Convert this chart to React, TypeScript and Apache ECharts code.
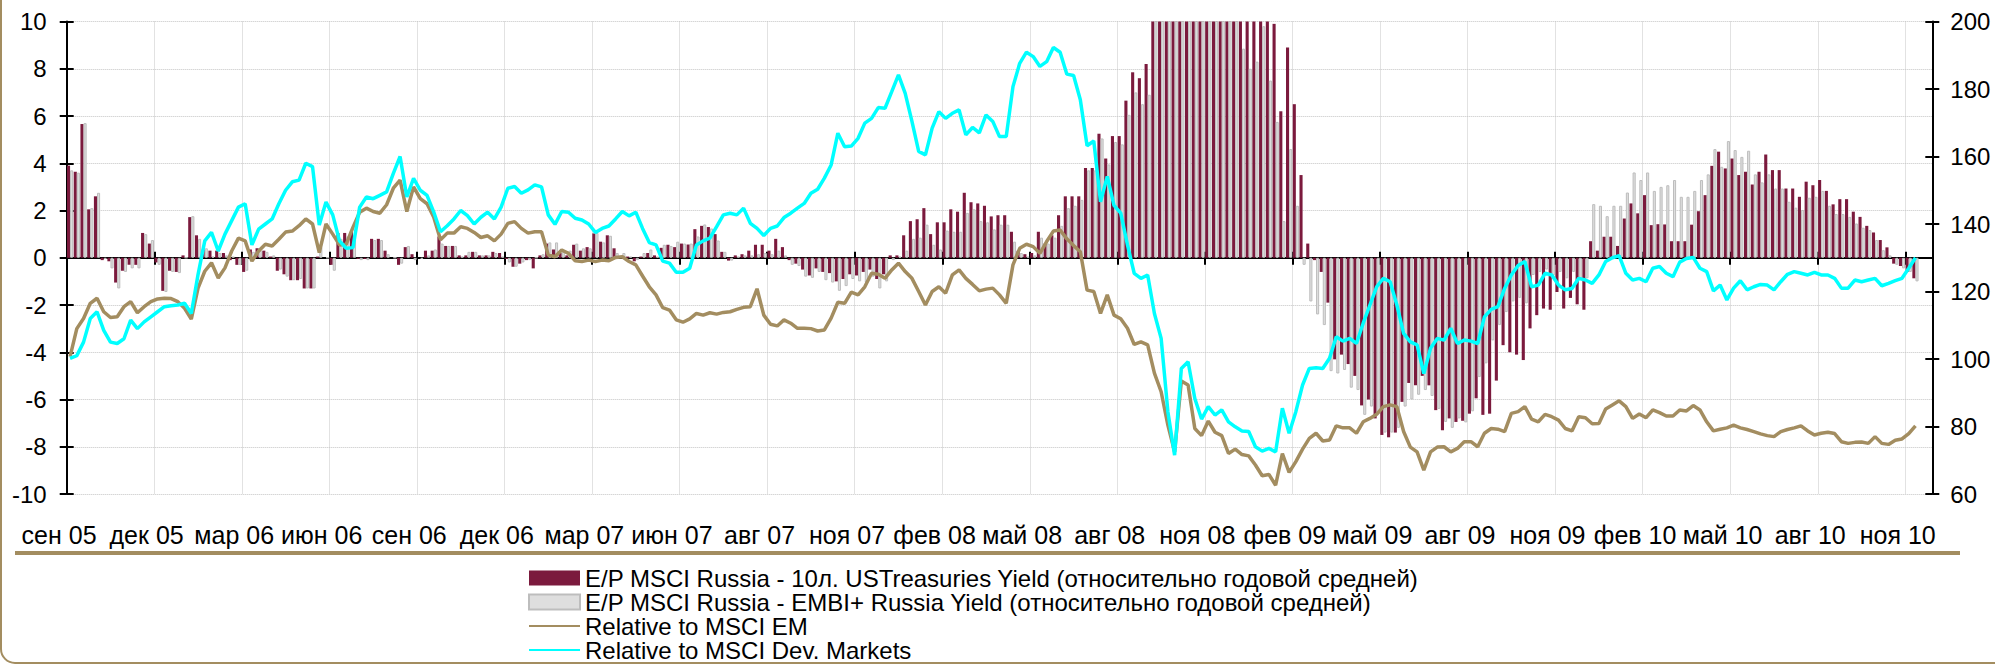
import React, { useEffect, useRef } from "react";
import * as echarts from "echarts";

const FONT = "'Liberation Sans', Arial, sans-serif";

const tickLabels = [
  "сен 05", "дек 05", "мар 06", "июн 06", "сен 06", "дек 06", "мар 07", "июн 07",
  "авг 07", "ноя 07", "фев 08", "май 08", "авг 08", "ноя 08", "фев 09", "май 09",
  "авг 09", "ноя 09", "фев 10", "май 10", "авг 10", "ноя 10",
];
const WEEKS_PER_LABEL = 13;
const WEEK_COUNT = 277;
const weeks = Array.from({ length: WEEK_COUNT }, (_, i) => `w${i}`);

const nameUST = "E/P MSCI Russia - 10л. USTreasuries Yield (относительно годовой средней)";
const nameEMBI = "E/P MSCI Russia - EMBI+ Russia Yield (относительно годовой средней)";
const nameEM = "Relative to MSCI EM";
const nameDM = "Relative to MSCI Dev. Markets";

// E/P MSCI Russia - 10y UST yield (deviation from 1y average), left axis
const epUST = [
  3.9, 3.64, 5.66, 2.05, 2.6, -0.1, -0.15, -1.05, -0.55, -0.3,
  -0.3, 1.05, 0.6, -0.2, -1.4, -0.55, -0.6, 0.1, 1.72, 0.95,
  0.35, 0.3, 0.3, 0.2, -0.1, -0.3, -0.6, 0.35, 0.4, 0.3,
  0.05, -0.55, -0.7, -0.95, -0.95, -1.3, -1.3, 0.05, 0, -0.3,
  1.05, 1.05, 1.1, -0.05, -0.05, 0.8, 0.8, 0.3, 0, -0.3,
  0.45, 0.15, 0, 0.3, 0.3, 0.9, 0.5, 0.5, 0.1, 0.1,
  0.25, 0.1, 0.1, 0.25, 0.2, -0.05, -0.38, -0.25, -0.1, -0.45,
  0.1, 0.6, 0.35, 0.2, 0.1, 0.55, 0.3, 0.45, 1.03, 0.68,
  0.95, 0.4, 0.05, 0.05, -0.15, 0.05, 0.2, 0.1, 0.42, 0.55,
  0.45, 0.6, 0.56, 1.21, 1.35, 1.3, 1.0, 0.25, -0.12, 0.1,
  0.15, 0.3, 0.55, 0.55, 0.3, 0.8, 0.45, -0.1, -0.25, -0.5,
  -0.75, -0.45, -0.6, -0.65, -1.0, -0.9, -0.7, -0.75, -0.6, -0.5,
  -0.9, -0.7, 0.1, 0.1, 0.95, 1.55, 1.63, 2.1, 1.0, 1.5,
  1.5, 2.05, 1.95, 2.75, 2.35, 2.3, 2.2, 1.75, 1.8, 1.8,
  1.1, 0.3, 0.15, 0.2, 1.1, 0.6, 0.95, 1.8, 2.6, 2.6,
  2.6, 3.8, 3.8, 5.25, 4.2, 5.15, 5.15, 6.65, 7.85, 7.6,
  8.2, 10.8, 11.5, 12.5, 13.5, 14, 14.5, 15, 15, 14.5,
  14, 13.5, 13, 12.5, 12, 11.5, 11, 10.8, 10.4, 9.9,
  6.2, 8.9, 6.5, 3.5, 0.6, -0.1, -0.6, -1.9, -4.3, -4.1,
  -4.5, -5.0, -6.25, -6.0, -6.8, -7.5, -7.6, -7.4, -6.1, -5.3,
  -5.4, -5.0, -5.4, -6.45, -7.3, -6.8, -6.95, -6.9, -6.6, -5.95,
  -6.65, -6.6, -5.2, -3.7, -4.0, -4.1, -4.33, -2.99, -2.43, -2.15,
  -2.2, -1.45, -2.15, -1.7, -1.97, -2.2, 0.7, 0.3, 0.89, 0.89,
  0.5, 1.66, 2.3, 1.88, 2.65, 1.38, 1.42, 1.41, 0.7, 0.7,
  0.7, 1.4, 1.97, 2.65, 3.89, 4.49, 3.78, 4.2, 3.5, 3.64,
  3.1, 3.64, 4.37, 3.71, 3.71, 2.93, 2.93, 2.58, 3.22, 3.07,
  3.29, 2.83, 2.26, 2.48, 2.48, 1.95, 1.73, 1.35, 1.07, 0.75,
  0.44, -0.25, -0.35, -0.6, -0.87,
];

// E/P MSCI Russia - EMBI+ Russia yield (deviation from 1y average), left axis
const epEMBI = [
  3.7, 3.6, 5.7, 2.1, 2.75, -0.05, -0.45, -1.3, -0.6, -0.45,
  -0.45, 1.0, 0.75, -0.3, -1.45, -0.6, -0.65, 0, 1.76, 0.8,
  0.4, 0.05, 0.2, 0.1, 0.05, -0.3, -0.55, 0.25, 0.3, 0.25,
  0.1, -0.5, -0.8, -0.95, -0.9, -1.3, -1.3, 0.45, 0, -0.55,
  0.8, 0.9, 0.95, -0.1, -0.1, 0.75, 0.75, 0.15, 0, -0.25,
  0.5, -0.1, -0.05, 0.1, 0.35, 0.6, 0.5, 0.5, 0.05, 0.25,
  0.25, 0.1, 0.1, 0.2, 0.05, -0.2, -0.38, -0.2, -0.1, 0,
  0.15, 0.65, 0.65, 0.25, 0.3, 0.6, 0.4, 0.4, 1.05, 0.65,
  0.93, 0.2, 0.2, 0.05, -0.1, 0.2, 0.35, 0.05, 0.55, 0.5,
  0.68, 0.6, 0.6, 0.9, 1.41, 1.24, 0.73, 0.25, -0.12, 0.05,
  0.1, 0.1, 0.15, 0.2, 0.15, 0.3, 0.1, -0.3, -0.35, -0.8,
  -0.85, -0.6, -0.95, -1.05, -1.4, -1.2, -0.9, -1.0, -1.05, -0.8,
  -1.3, -1.0, -0.1, 0.05, 0.3, 0.8, 0.85, 1.4, 0.55, 0.35,
  1.15, 1.1, 1.1, 1.9, 2.05, 1.55, 1.5, 1.2, 1.4, 1.4,
  0.68, 0.2, 0.05, 0.1, 0.85, 0.6, 0.85, 1.35, 2.1, 2.2,
  2.45, 3.7, 3.7, 5.05, 3.95, 4.9, 4.8, 6.05, 7.0, 6.5,
  6.9, 10.3, 11, 12, 13, 13.5, 14, 14.5, 14.5, 14,
  13.5, 12.5, 11.5, 10.5, 8.85, 8.0, 8.3, 9.8, 7.5, 5.75,
  1.55, 4.6, 2.2, -0.3, -1.85, -2.4, -2.85, -4.8, -4.9, -4.75,
  -5.5, -5.6, -6.65, -6.3, -6.6, -7.4, -7.4, -7.2, -6.3, -6.0,
  -5.8, -5.6, -5.85, -6.4, -6.95, -7.2, -6.8, -6.97, -6.5, -5.05,
  -4.47, -3.5, -2.85, -2.3, -1.85, -1.7, -1.93, -0.73, -0.6, -0.5,
  -0.75, -0.6, -0.87, -0.6, -0.9, -0.87, 2.27, 2.2, 1.76, 2.2,
  2.2, 2.76, 3.61, 3.29, 3.61, 2.83, 3.0, 3.07, 3.29, 2.58,
  2.58, 2.83, 3.29, 3.53, 4.6, 3.85, 4.94, 4.56, 4.27, 4.53,
  3.53, 3.19, 3.53, 2.93, 2.93, 2.37, 2.12, 2.02, 2.54, 2.58,
  2.83, 2.2, 1.85, 1.85, 1.73, 1.45, 1.27, 1.17, 0.75, 0.32,
  0.1, -0.3, -0.45, -0.6, -1.0,
];

// Relative to MSCI EM, right axis
const relEM = [
  100.7, 109, 112, 116.5, 118, 114, 112.3, 112.5, 115.5, 117,
  113.7, 115.5, 117, 117.8, 118, 117.9, 117, 115, 111.8, 121,
  126, 128.5, 124, 127, 132, 135.8, 135, 129, 132, 134,
  133.5, 135.5, 137.6, 137.9, 139.5, 141.5, 140, 131.5, 140, 137,
  133.8, 134, 139, 143.5, 144.7, 143.7, 143.2, 145.7, 150.6, 153,
  143.7, 151, 147.5, 146, 142, 135.3, 137.3, 137.3, 139.2, 138.7,
  137.5, 136, 136.5, 135, 137, 140.2, 140.7, 138.7, 137.3, 137.7,
  137.7, 130.8, 130.3, 132.3, 131.3, 129.1, 128.9, 129.3, 128.9, 129.3,
  129.1, 130.1, 130.3, 128.9, 127.9, 124.6, 121.4, 119.0, 115.2, 114.5,
  111.6, 110.9, 111.9, 113.5, 113.0, 113.7, 113.3, 113.8, 114.0, 114.7,
  115.3, 115.5, 120.8, 113.0, 110.3, 109.8, 111.6, 110.6, 109.1, 109.1,
  109.0, 108.3, 108.6, 112.1, 116.8, 116.5, 119.8, 119.0, 121.4, 125.4,
  125.1, 123.9, 126.4, 128.4, 125.9, 123.9, 120.0, 116.0, 120.0, 121.4,
  119.5, 124.9, 126.4, 123.9, 122.1, 120.2, 120.7, 121, 119, 116.5,
  127.9, 132.8, 134.0, 133.3, 131.3, 134.8, 137.9, 138.2, 135.6, 133.6,
  131.8, 120.4, 120.0, 113.5, 119.0, 113.0, 111.9, 109.1, 104.3, 105.1,
  104.2, 95.8, 90.3, 80.4, 72.5, 93.5, 92.3, 79.4, 77.3, 81.6,
  78.3, 77.3, 72.0, 73.3, 71.7, 71.3, 68.6, 65.4, 65.8, 62.6,
  72.0, 66.4, 69.6, 73.3, 76.5, 78.0, 75.7, 76.0, 80.2, 79.6,
  79.6, 78.0, 81.4, 82.4, 83.6, 85.9, 86.4, 85.9, 78.5, 73.9,
  72.5, 67.1, 72.5, 73.9, 74.0, 72.5, 73.5, 75.5, 75.5, 74.0,
  78.0, 79.4, 79.2, 78.5, 83.9, 84.4, 85.9, 82.2, 81.4, 83.6,
  82.9, 81.9, 79.4, 78.7, 82.9, 82.6, 80.8, 80.9, 85.2, 86.4,
  87.6, 85.9, 82.4, 83.7, 82.6, 84.9, 84.1, 83.1, 83.1, 84.9,
  84.6, 86.2, 84.9, 81.4, 78.7, 79.2, 79.6, 80.4, 79.6, 79.1,
  78.5, 77.8, 77.3, 77.0, 78.5, 79.1, 79.6, 80.2, 78.7, 77.5,
  78.0, 78.3, 77.9, 75.5, 75.0, 75.3, 75.4, 75.0, 77.0, 75.0,
  74.7, 75.9, 76.3, 77.9, 80.2,
];

// Relative to MSCI Developed Markets, right axis
const relDM = [
  100.2, 101, 105, 112, 114, 108.5, 105, 104.6, 106, 111.5,
  109, 111, 112.5, 114, 115.5, 115.8, 116, 116.5, 113.5, 125,
  135, 137.5, 132, 137, 141, 145, 146, 133.8, 138.5, 140,
  141.5, 146, 150, 152.5, 153, 158, 157, 139.7, 146.5, 142.7,
  135, 132.8, 133, 145, 148, 147.5, 148.5, 149.5, 155, 160,
  148, 153.5, 150, 148.5, 143.5, 137.7, 139.5, 141.5, 144, 142.5,
  140, 142, 143.5, 141.5, 145, 150.6, 151.1, 149.1, 150.1, 151.6,
  151, 142.7, 139.9, 143.7, 143.5, 141.7, 141.2, 140, 137.5, 138.7,
  139.4, 141.5, 143.7, 142.4, 143.5, 138.7, 134.5, 133.8, 129.0, 128.4,
  125.7, 125.7, 126.9, 133.8, 135.0, 135.8, 139.2, 142.7, 143.2, 142.7,
  144.7, 140.2, 138.7, 136.6, 138.7, 139.4, 141.9, 143.2, 144.7, 146.1,
  149.1, 150.3, 153.6, 157.5, 166.9, 162.9, 163.1, 165.4, 169.9, 171.3,
  174.5, 174.3, 179.2, 184.2, 178.7, 170.4, 161.5, 160.5, 168.4, 173.3,
  171.3, 172.8, 173.8, 166.4, 168.6, 167, 172.3, 170.4, 165.9, 165.9,
  180.7, 187.6, 190.9, 189.6, 186.7, 188.1, 192.3, 190.9, 184.4, 184.0,
  176.8, 163.2, 164.6, 146.6, 154.1, 145.5, 143.2, 133.8, 125.4, 123.9,
  124.9, 113.5, 106.1, 84.4, 71.5, 97.2, 99.2, 88.3, 82.2, 85.9,
  83.4, 84.9, 81.4, 79.9, 78.7, 78.5, 74.0, 72.7, 73.5, 72.5,
  85.4, 78.0, 84.4, 92.3, 97.2, 97.4, 97.2, 100.2, 106.6, 105.3,
  106.1, 104.6, 110.6, 116.0, 121.4, 123.9, 122.9, 116.0, 107.6, 105.1,
  104.2, 95.7, 103.2, 106.1, 105.6, 109.1, 104.6, 105.6, 105.3, 104.6,
  112.5, 114.7, 115.5, 120.9, 124.9, 127.7, 128.9, 121.4, 121.9, 125.4,
  124.9, 121.9, 120.5, 120.9, 123.9, 123.4, 122.4, 124.9, 128.9, 130.0,
  130.6, 125.4, 123.4, 123.9, 122.9, 126.9, 127.4, 125.4, 124.4, 128.7,
  129.8, 130.1, 126.9, 125.9, 120.2, 121.9, 117.5, 121.0, 123.2, 120.5,
  121.4, 122.1, 121.9, 120.5, 122.9, 125.1, 125.9, 125.4, 124.9, 125.7,
  124.9, 124.9, 123.9, 121.0, 121.0, 123.4, 122.9, 123.4, 123.9, 121.7,
  122.4, 123.2, 123.9, 126.9, 130.0,
];

const MAROON = "#7B1A3D";
const GRAY_FILL = "#DEDEDE";
const GRAY_EDGE = "#BDBDBD";
const TAN = "#A38D60";
const CYAN = "#00FFFF";
const GRID = "#C4C4C4";

export default function App() {
  const ref = useRef<HTMLDivElement>(null);

  useEffect(() => {
    if (!ref.current) return;
    const chart = echarts.init(ref.current, undefined, { renderer: "svg" });
    const labelFormatter = (_v: string, idx: number) =>
      idx % WEEKS_PER_LABEL === 0 ? tickLabels[idx / WEEKS_PER_LABEL] ?? "" : "";

    const option: any = {
      animation: false,
      backgroundColor: "#ffffff",
      textStyle: { fontFamily: FONT },
      grid: { left: 66.7, right: 62.7, top: 21.5, height: 472.5, containLabel: false },
      legend: {
        orient: "vertical",
        left: 528,
        top: 566,
        height: 120,
        padding: 0,
        itemGap: 0,
        itemWidth: 51,
        itemHeight: 15,
        textStyle: { fontSize: 24, color: "#000", fontFamily: FONT },
        data: [
          { name: nameUST, icon: "rect" },
          { name: nameEMBI, icon: "rect" },
          { name: nameEM, itemStyle: { opacity: 0 } },
          { name: nameDM, itemStyle: { opacity: 0 } },
        ],
      },
      xAxis: [
        {
          type: "category",
          data: weeks,
          boundaryGap: true,
          axisLine: { show: true, onZero: true, onZeroAxisIndex: 0, lineStyle: { color: "#000", width: 2 } },
          axisTick: { show: true, interval: WEEKS_PER_LABEL - 1, length: 7, lineStyle: { color: "#000", width: 2 } },
          axisLabel: { show: false },
          splitLine: { show: false },
        },
        {
          type: "category",
          data: weeks,
          boundaryGap: true,
          position: "bottom",
          axisLine: { show: false, onZero: false },
          axisTick: { show: false },
          axisLabel: {
            show: true,
            interval: WEEKS_PER_LABEL - 1,
            formatter: labelFormatter,
            fontSize: 25,
            color: "#000",
            margin: 28,
            padding: [0, 22, 0, 0],
            fontFamily: FONT,
          },
          splitLine: { show: true, interval: WEEKS_PER_LABEL - 1, lineStyle: { color: GRID, type: "dotted", width: 1 } },
        },
        {
          type: "category",
          data: weeks,
          boundaryGap: true,
          position: "bottom",
          axisLine: { show: false, onZero: true, onZeroAxisIndex: 0 },
          axisTick: { show: true, inside: true, interval: WEEKS_PER_LABEL - 1, length: 6, lineStyle: { color: "#000", width: 2 } },
          axisLabel: { show: false },
          splitLine: { show: false },
        },
      ],
      yAxis: [
        {
          type: "value",
          min: -10,
          max: 10,
          interval: 2,
          position: "left",
          axisLine: { show: true, lineStyle: { color: "#000", width: 2 } },
          axisTick: { show: true, length: 7, lineStyle: { color: "#000", width: 2 } },
          axisLabel: { fontSize: 24, color: "#000", margin: 20, fontFamily: FONT },
          splitLine: { show: true, lineStyle: { color: GRID, type: "dotted", width: 1 } },
        },
        {
          type: "value",
          min: 60,
          max: 200,
          interval: 20,
          position: "right",
          axisLine: { show: true, lineStyle: { color: "#000", width: 2 } },
          axisTick: { show: true, length: 7, lineStyle: { color: "#000", width: 2 } },
          axisLabel: { fontSize: 24, color: "#000", margin: 18, fontFamily: FONT },
          splitLine: { show: false },
        },
        {
          type: "value",
          min: -10,
          max: 10,
          interval: 2,
          position: "left",
          axisLine: { show: false },
          axisTick: { show: true, inside: true, length: 7, lineStyle: { color: "#000", width: 2 } },
          axisLabel: { show: false },
          splitLine: { show: false },
        },
        {
          type: "value",
          min: 60,
          max: 200,
          interval: 20,
          position: "right",
          axisLine: { show: false },
          axisTick: { show: true, inside: true, length: 7, lineStyle: { color: "#000", width: 2 } },
          axisLabel: { show: false },
          splitLine: { show: false },
        },
      ],
      series: [
        {
          name: nameUST,
          type: "bar",
          xAxisIndex: 0,
          yAxisIndex: 0,
          data: epUST,
          clip: true,
          barGap: "0%",
          barCategoryGap: "8%",
          itemStyle: { color: MAROON },
        },
        {
          name: nameEMBI,
          type: "bar",
          xAxisIndex: 0,
          yAxisIndex: 0,
          data: epEMBI,
          clip: true,
          barGap: "0%",
          barCategoryGap: "8%",
          itemStyle: { color: GRAY_FILL, borderColor: GRAY_EDGE, borderWidth: 1 },
        },
        {
          name: nameEM,
          type: "line",
          xAxisIndex: 0,
          yAxisIndex: 1,
          data: relEM,
          symbol: "none",
          lineStyle: { color: TAN, width: 3.5 },
          itemStyle: { color: TAN },
        },
        {
          name: nameDM,
          type: "line",
          xAxisIndex: 0,
          yAxisIndex: 1,
          data: relDM,
          symbol: "none",
          lineStyle: { color: CYAN, width: 3.5 },
          itemStyle: { color: CYAN },
        },
      ],
      graphic: [
        {
          type: "rect",
          silent: true,
          shape: { x: 1, y: -40, width: 2100, height: 703, r: 14 },
          style: { fill: "none", stroke: TAN, lineWidth: 2 },
        },
        {
          type: "rect",
          silent: true,
          shape: { x: 15, y: 551, width: 1945, height: 4 },
          style: { fill: TAN },
        },
      ],
    };
    chart.setOption(option);
    return () => chart.dispose();
  }, []);

  return (
    <div
      ref={ref}
      style={{ position: "absolute", left: 0, top: 0, width: 1995, height: 665, background: "#fff" }}
    />
  );
}
